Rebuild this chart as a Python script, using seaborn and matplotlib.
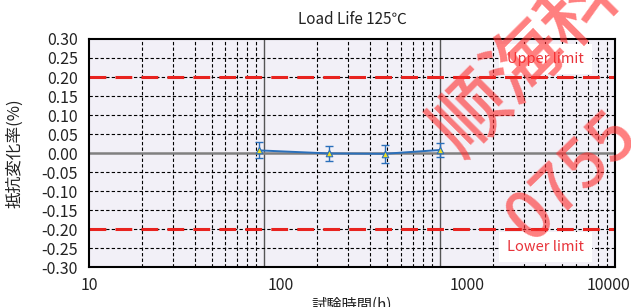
import numpy as np
import pandas as pd
import seaborn as sns
import matplotlib.pyplot as plt
import matplotlib.transforms as mtransforms
from matplotlib.ticker import NullFormatter, LogLocator

# data
hours = [93, 232, 484, 1000]
change = [0.007, -0.001, -0.002, 0.008]
err = [0.021, 0.020, 0.023, 0.019]
upper_limit = 0.20
lower_limit = -0.20
x_ticks = [10, 100, 1000, 10000]
y_ticks = [-0.30, -0.25, -0.20, -0.15, -0.10, -0.05, 0.00, 0.05, 0.10, 0.15, 0.20, 0.25, 0.30]

df = pd.DataFrame({'hours': hours, 'change': change, 'err': err})

sns.set_style('white')
plt.rcParams['font.family'] = ['Noto Sans CJK JP', 'DejaVu Sans']

fig = plt.figure(figsize=(6.31, 3.07), dpi=100)
ax = fig.add_axes([0.141, 0.130, 0.834, 0.743])
ax.set_facecolor('#f2f0f7')

ax.set_xscale('log')
ax.set_xlim(10, 10000)
ax.set_ylim(-0.30, 0.30)

# grid
ax.xaxis.set_minor_locator(LogLocator(base=10, subs=np.arange(2, 10)))
ax.grid(which='minor', axis='x', color='black', linestyle=(0, (3, 2)), linewidth=0.8)
for xv in [100, 1000]:
    ax.axvline(xv, color='#555555', linewidth=1.0, zorder=1)
for yv in y_ticks:
    if abs(yv) > 1e-9 and abs(yv) < 0.29:
        ax.axhline(yv, color='black', linestyle=(0, (3, 2)), linewidth=0.8, zorder=1)
ax.axhline(0, color='#808080', linewidth=1.8, zorder=1)

# limits
ax.axhline(upper_limit, color='#e8231f', linestyle=(0, (5.5, 3)), linewidth=2.2, zorder=2)
ax.axhline(lower_limit, color='#e8231f', linestyle=(0, (5.5, 3)), linewidth=2.2, zorder=2)
box = dict(boxstyle='square,pad=0.55', facecolor='white', edgecolor='none')
ax.text(4000, 0.247, 'Upper limit', color='#e8333a', fontsize=10.5, va='center', ha='center', bbox=box, zorder=3)
ax.text(4000, -0.247, 'Lower limit', color='#e8333a', fontsize=10.5, va='center', ha='center', bbox=box, zorder=3)

# data
ax.errorbar(df['hours'], df['change'], yerr=df['err'], fmt='none', ecolor='#2a6fba',
            elinewidth=1.0, capsize=3, capthick=1.0, zorder=4)
sns.lineplot(data=df, x='hours', y='change', ax=ax, color='#2a6fba', linewidth=1.4, zorder=5)
sns.scatterplot(data=df, x='hours', y='change', ax=ax, marker='^', s=22, color='#f0e020',
                edgecolor='#2a6fba', linewidth=0.8, zorder=6)

ax.set_xticks(x_ticks)
ax.set_xticklabels([str(v) for v in x_ticks])
ax.xaxis.set_minor_formatter(NullFormatter())
ax.set_yticks(y_ticks)
ax.set_yticklabels(['%.2f' % v for v in y_ticks])
ax.tick_params(which='both', length=0, labelsize=11.5, colors='#222222')
ax.tick_params(axis='y', pad=8)
ax.tick_params(axis='x', pad=7)

# the x labels sit a little off the decade lines in the original
for lbl, dx in zip(ax.get_xticklabels(), [0, 16, 27, -7]):
    lbl.set_transform(lbl.get_transform() + mtransforms.ScaledTranslation(dx / 100, 0, fig.dpi_scale_trans))

for s in ax.spines.values():
    s.set_color('black')
    s.set_linewidth(1.5)

ax.set_title('Load Life 125℃', fontsize=11, color='#222222', pad=11)
ax.set_xlabel('試験時間(h)', fontsize=11, color='#222222', labelpad=2)
ax.set_ylabel('抵抗変化率(%)', fontsize=12, color='#222222')
ax.yaxis.set_label_coords(-0.125, 0.5)

# watermark
fig.text(0.878, 0.885, '顺海科技', fontsize=55, color='#ff3030', alpha=0.62, rotation=45,
         ha='center', va='center', fontweight='medium')
fig.text(0.908, 0.423, '0755', fontsize=48, color='#ff3030', alpha=0.62, rotation=44,
         ha='center', va='center', fontweight='medium')

fig.savefig('out.png', dpi=100)
